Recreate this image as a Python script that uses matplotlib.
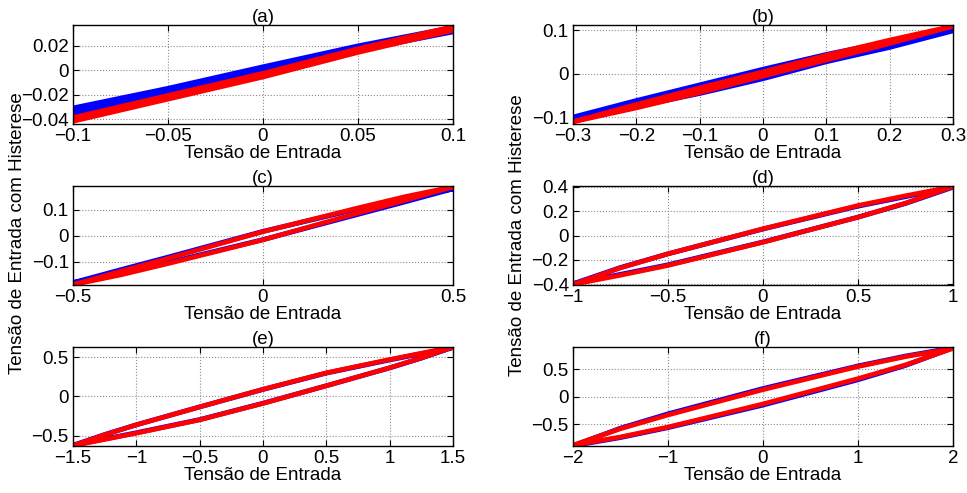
import matplotlib
matplotlib.use("Agg")
import matplotlib.pyplot as plt
import numpy as np

plt.rcParams["font.family"] = ["Liberation Sans", "DejaVu Sans"]
plt.rcParams["font.size"] = 13.5

# values; each panel is one hysteresis loop
# (upper branch = decreasing input, lower branch = increasing input)
a_x = [-0.1, -0.05, 0.0, 0.05, 0.1]
a_blue_up = [-0.031, -0.015, 0.0025, 0.0195, 0.0345]
a_blue_lo = [-0.035, -0.019, -0.0015, 0.0165, 0.0315]
a_red_up = [-0.0385, -0.0205, -0.0025, 0.0175, 0.0355]
a_red_lo = [-0.0415, -0.0235, -0.0055, 0.0145, 0.0325]

b_x = [-0.3, -0.2, -0.1, 0.0, 0.1, 0.2, 0.3]
b_blue_up = [-0.100, -0.062, -0.026, 0.010, 0.044, 0.074, 0.102]
b_blue_lo = [-0.102, -0.074, -0.044, -0.010, 0.029, 0.062, 0.100]
b_red_up = [-0.110, -0.070, -0.032, 0.005, 0.043, 0.078, 0.110]
b_red_lo = [-0.110, -0.078, -0.043, -0.005, 0.032, 0.070, 0.110]

c_x = [-0.5, -0.375, -0.25, 0.0, 0.25, 0.375, 0.5]
c_blue_up = [-0.182, -0.132, -0.083, 0.017, 0.104, 0.146, 0.182]
c_blue_lo = [-0.182, -0.146, -0.104, -0.015, 0.083, 0.132, 0.182]
c_red_up = [-0.190, -0.138, -0.088, 0.016, 0.108, 0.152, 0.190]
c_red_lo = [-0.190, -0.152, -0.108, -0.016, 0.088, 0.138, 0.190]

d_x = [-1.0, -0.75, -0.5, 0.0, 0.5, 0.75, 1.0]
d_blue_up = [-0.395, -0.262, -0.150, 0.053, 0.240, 0.318, 0.395]
d_blue_lo = [-0.395, -0.318, -0.240, -0.053, 0.150, 0.262, 0.395]
d_red_up = [-0.400, -0.265, -0.150, 0.055, 0.245, 0.325, 0.400]
d_red_lo = [-0.400, -0.325, -0.245, -0.055, 0.150, 0.265, 0.400]

e_x = [-1.5, -1.25, -1.0, -0.5, 0.0, 0.5, 1.0, 1.25, 1.5]
e_blue_up = [-0.625, -0.488, -0.363, -0.135, 0.088, 0.297, 0.465, 0.545, 0.625]
e_blue_lo = [-0.625, -0.545, -0.465, -0.297, -0.088, 0.135, 0.363, 0.488, 0.625]
e_red_up = [-0.630, -0.490, -0.365, -0.135, 0.090, 0.300, 0.470, 0.550, 0.630]
e_red_lo = [-0.630, -0.550, -0.470, -0.300, -0.090, 0.135, 0.365, 0.490, 0.630]

f_x = [-2.0, -1.5, -1.0, 0.0, 1.0, 1.5, 2.0]
f_blue_up = [-0.89, -0.57, -0.31, 0.15, 0.56, 0.74, 0.89]
f_blue_lo = [-0.89, -0.74, -0.56, -0.15, 0.31, 0.57, 0.89]
f_red_up = [-0.88, -0.58, -0.33, 0.13, 0.55, 0.73, 0.88]
f_red_lo = [-0.88, -0.73, -0.55, -0.13, 0.33, 0.58, 0.88]

titles = ["(a)", "(b)", "(c)", "(d)", "(e)", "(f)"]
xlims = [(-0.1, 0.1), (-0.3, 0.3), (-0.5, 0.5), (-1, 1), (-1.5, 1.5), (-2, 2)]
ylims = [(-0.0437, 0.0368), (-0.115, 0.1126), (-0.191, 0.193),
         (-0.405, 0.405), (-0.634, 0.63), (-0.894, 0.905)]
xticks = [[-0.1, -0.05, 0, 0.05, 0.1],
          [-0.3, -0.2, -0.1, 0, 0.1, 0.2, 0.3],
          [-0.5, 0, 0.5],
          [-1, -0.5, 0, 0.5, 1],
          [-1.5, -1, -0.5, 0, 0.5, 1, 1.5],
          [-2, -1, 0, 1, 2]]
yticks = [[-0.04, -0.02, 0, 0.02],
          [-0.1, 0, 0.1],
          [-0.1, 0, 0.1],
          [-0.4, -0.2, 0, 0.2, 0.4],
          [-0.5, 0, 0.5],
          [-0.5, 0, 0.5]]

panels = [
    (a_x, a_blue_up, a_blue_lo, a_red_up, a_red_lo),
    (b_x, b_blue_up, b_blue_lo, b_red_up, b_red_lo),
    (c_x, c_blue_up, c_blue_lo, c_red_up, c_red_lo),
    (d_x, d_blue_up, d_blue_lo, d_red_up, d_red_lo),
    (e_x, e_blue_up, e_blue_lo, e_red_up, e_red_lo),
    (f_x, f_blue_up, f_blue_lo, f_red_up, f_red_lo),
]


def loop(x, up, lo):
    # go right along the lower branch, come back along the upper one
    return np.concatenate([x, x[::-1]]), np.concatenate([lo, up[::-1]])


def fmt(v):
    return f"{v:g}".replace("-", "\u2212")


W, H = 967, 493
lefts = [73, 573]
tops = [25, 186, 347]
fig = plt.figure(figsize=(W / 100, H / 100), dpi=100)

for i, (x, b_up, b_lo, r_up, r_lo) in enumerate(panels):
    row, col = divmod(i, 2)
    ax = fig.add_axes([lefts[col] / W, 1 - (tops[row] + 99) / H, 380 / W, 99 / H])
    bw = 4 if i < 2 else 3.5
    ax.plot(*loop(np.array(x), np.array(b_up), np.array(b_lo)), color="blue",
            lw=bw, solid_joinstyle="round")
    ax.plot(*loop(np.array(x), np.array(r_up), np.array(r_lo)), color="red",
            lw=3.4, solid_joinstyle="round")
    ax.set_xlim(xlims[i])
    ax.set_ylim(ylims[i])
    ax.set_xticks(xticks[i])
    ax.set_xticklabels([fmt(v) for v in xticks[i]])
    ax.set_yticks(yticks[i])
    ax.set_yticklabels([fmt(v) for v in yticks[i]])
    ax.tick_params(direction="in", top=True, right=True, length=4, pad=3)
    ax.grid(True, linestyle=":", color="0.55", lw=0.8)
    for sp in ax.spines.values():
        sp.set_linewidth(1.0)
    ax.set_title(titles[i], pad=2, fontsize=13.5)
    ax.set_xlabel("Tensão de Entrada", labelpad=0)

fig.text(18 / W, 1 - 233 / H, "Tensão de Entrada com Histerese", rotation=90,
         ha="center", va="center")
fig.text(517 / W, 1 - 235 / H, "Tensão de Entrada com Histerese", rotation=90,
         ha="center", va="center")

fig.savefig("out.png", dpi=100)
